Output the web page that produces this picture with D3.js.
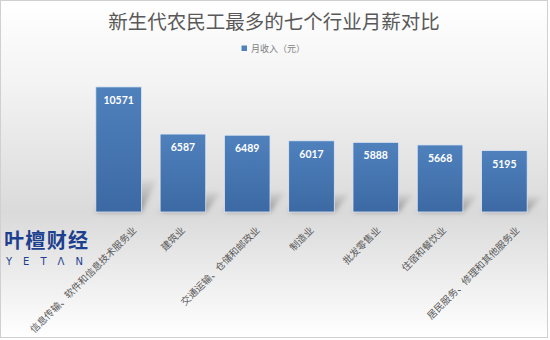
<!DOCTYPE html>
<html><head><meta charset="utf-8">
<script src="https://cdn.jsdelivr.net/npm/d3@7"></script>
<style>body{margin:0;background:#fff}svg{display:block}</style>
</head><body>
<script>
const title = "新生代农民工最多的七个行业月薪对比";
const seriesName = "月收入（元）";
const categories = ["信息传输、软件和信息技术服务业","建筑业","交通运输、仓储和邮政业","制造业","批发零售业","住宿和餐饮业","居民服务、修理和其他服务业"];
const values = [10571, 6587, 6489, 6017, 5888, 5668, 5195];
const logoText = "叶檀财经";
const logoSub = "YETΛN";

const W = 550, H = 340;
const font = "'Noto Sans CJK SC', 'Noto Sans', sans-serif";
const svg = d3.select("body").append("svg").attr("width", W).attr("height", H);
const defs = svg.append("defs");

const bg = defs.append("linearGradient").attr("id","bg").attr("x1",0).attr("y1",0).attr("x2",0).attr("y2",1);
bg.append("stop").attr("offset","0%").attr("stop-color","#ffffff");
bg.append("stop").attr("offset","25%").attr("stop-color","#f3f3f3");
bg.append("stop").attr("offset","63%").attr("stop-color","#dadada");
bg.append("stop").attr("offset","100%").attr("stop-color","#ffffff");

const bar = defs.append("linearGradient").attr("id","bar").attr("x1",0).attr("y1",0).attr("x2",0).attr("y2",1);
bar.append("stop").attr("offset","0%").attr("stop-color","#4f81bd");
bar.append("stop").attr("offset","100%").attr("stop-color","#3c69a3");

const blur = defs.append("filter").attr("id","blur").attr("x","-50%").attr("y","-50%").attr("width","200%").attr("height","200%");
blur.append("feGaussianBlur").attr("stdDeviation", 2.5);

const sh = defs.append("linearGradient").attr("id","sh").attr("x1",0).attr("y1",1).attr("x2",0).attr("y2",0);
sh.append("stop").attr("offset","0%").attr("stop-color","#7a7a7a").attr("stop-opacity",0.85);
sh.append("stop").attr("offset","100%").attr("stop-color","#a0a0a0").attr("stop-opacity",0.2);

svg.append("rect").attr("x",0.5).attr("y",0.5).attr("width",W-3).attr("height",H-3)
  .attr("fill","url(#bg)").attr("stroke","#d0d0d0");

const x = d3.scaleBand().domain(categories).range([86.5, 536.5]).paddingInner(0.29).paddingOuter(0.145);
const y = d3.scaleLinear().domain([0, 12000]).range([212, 70]);

// shadows
const shadows = svg.append("g").attr("filter","url(#blur)");
categories.forEach((c,i)=>{
  const x0 = x(c), x1 = x(c)+x.bandwidth();
  const h = y(0) - y(values[i]);
  const rise = h*0.25, skew = 15;
  const b = y(0);
  shadows.append("path")
    .attr("d", `M${x0},${b} L${x1},${b} L${x1+skew},${b-rise} L${x0+skew},${b-rise} Z`)
    .attr("fill","url(#sh)");
});

// bars
svg.append("g").selectAll("rect").data(values).join("rect")
  .attr("x",(d,i)=>x(categories[i])).attr("y",d=>y(d))
  .attr("width",x.bandwidth()).attr("height",d=>y(0)-y(d))
  .attr("fill","url(#bar)").attr("stroke","#dfe8f3").attr("stroke-width",0.8);

// value labels
svg.append("g").selectAll("text").data(values).join("text")
  .attr("x",(d,i)=>x(categories[i])+x.bandwidth()/2).attr("y",d=>y(d)+17)
  .attr("text-anchor","middle").attr("fill","#ffffff")
  .attr("font-family","Lato, 'Open Sans', sans-serif").attr("font-weight","bold").attr("font-size",10.5)
  .text(d=>d);

// x labels
const xl = svg.append("g");
categories.forEach((c,i)=>{
  const t = xl.append("text").attr("text-anchor","end").attr("dominant-baseline","central")
    .attr("font-family",font).attr("font-size",9.7).attr("fill","#595959").text(c);
  const L = t.node().getComputedTextLength();
  const cx = x(c)+x.bandwidth()/2 + L*0.135 - 4;
  t.attr("transform",`translate(${cx},228) rotate(-45)`);
});

// title
svg.append("text").attr("x",274).attr("y",28.5).attr("text-anchor","middle")
  .attr("font-family",font).attr("font-size",19.5).attr("fill","#595959").text(title);

// legend
svg.append("rect").attr("x",241.5).attr("y",45.5).attr("width",5.5).attr("height",5.5).attr("fill","#4f81bd");
svg.append("text").attr("x",251).attr("y",48.5).attr("dominant-baseline","central")
  .attr("font-family",font).attr("font-size",9).attr("fill","#7f7f7f").text(seriesName);

// logo
svg.append("text").attr("x",4).attr("y",248).attr("font-family",font).attr("font-weight","bold")
  .attr("font-size",20).attr("fill","#1d3f8f").attr("textLength",84).text(logoText);
svg.append("text").attr("x",6).attr("y",265).attr("font-family","'DejaVu Sans', sans-serif")
  .attr("font-size",10).attr("fill","#1d3f8f").attr("letter-spacing",11).text(logoSub);
</script>
</body></html>
